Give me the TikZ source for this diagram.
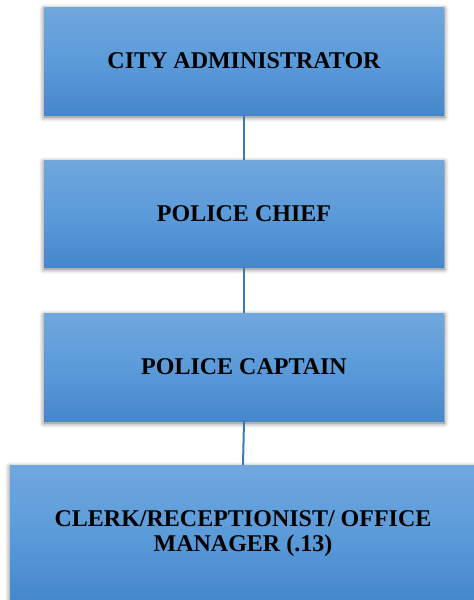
\documentclass[tikz,border=0pt]{standalone}
\usepackage{fontspec}
\setmainfont{Liberation Serif}
\usetikzlibrary{shadows.blur}
\definecolor{boxtop}{HTML}{70A7DD}
\definecolor{boxmid}{HTML}{5B9BDA}
\definecolor{boxbot}{HTML}{4487CB}
\definecolor{linkcol}{HTML}{3E78B2}
\tikzset{
  orgbox/.style={rectangle, inner sep=0pt, top color=boxtop, bottom color=boxbot, middle color=boxmid,
    blur shadow={shadow xshift=0pt, shadow yshift=-2pt, shadow blur radius=5pt, shadow blur steps=8, shadow opacity=55},
    font=\fontsize{24}{25}\selectfont\bfseries, align=center, text=black},
  link/.style={draw=linkcol, line width=2pt}
}
\begin{document}
\begin{tikzpicture}[x=1pt,y=-1pt]
\useasboundingbox (0,0) rectangle (474,600);
\node[orgbox, minimum width=400pt, minimum height=108pt] (a) at (244,61) {CITY ADMINISTRATOR};
\node[orgbox, minimum width=400pt, minimum height=107pt] (b) at (244,213.5) {POLICE CHIEF};
\node[orgbox, minimum width=400pt, minimum height=108pt] (c) at (244,367) {POLICE CAPTAIN};
\node[orgbox, minimum width=466pt, minimum height=137pt] (d) at (243,533.5) {CLERK/RECEPTIONIST/ OFFICE\\MANAGER (.13)};
\draw[link] (a.south) -- (b.north);
\draw[link] (b.south) -- (c.north);
\draw[link] (c.south) -- (d.north);
\end{tikzpicture}
\end{document}
